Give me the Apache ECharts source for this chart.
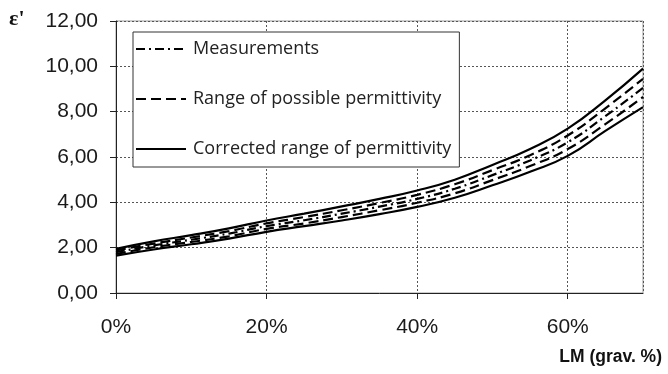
<!DOCTYPE html>
<html><head><meta charset="utf-8">
<script src="https://cdn.jsdelivr.net/npm/echarts@6/dist/echarts.min.js"></script>
<style>html,body{margin:0;padding:0;background:#fff}#c{width:668px;height:374px}</style>
</head><body><div id="c"></div>
<script>
const lm = [0, 5, 10, 15, 20, 25, 30, 35, 40, 45, 50, 55, 60, 65, 70];
const measurements = [1.80, 2.10, 2.35, 2.62, 2.95, 3.21, 3.50, 3.81, 4.15, 4.60, 5.20, 5.85, 6.65, 7.80, 9.05];
const rangeUpper   = [1.88, 2.18, 2.45, 2.73, 3.07, 3.35, 3.65, 3.97, 4.33, 4.80, 5.42, 6.08, 6.95, 8.15, 9.45];
const rangeLower   = [1.72, 2.02, 2.25, 2.50, 2.83, 3.07, 3.35, 3.65, 3.98, 4.40, 4.98, 5.60, 6.35, 7.45, 8.65];
const corrUpper    = [1.95, 2.28, 2.55, 2.85, 3.20, 3.50, 3.82, 4.15, 4.52, 5.00, 5.65, 6.35, 7.25, 8.50, 9.90];
const corrLower    = [1.65, 1.92, 2.15, 2.40, 2.70, 2.95, 3.20, 3.48, 3.80, 4.20, 4.75, 5.35, 6.05, 7.15, 8.20];
const names = ['Measurements', 'Range of possible permittivity', 'Corrected range of permittivity'];

const pair = arr => lm.map((x, i) => [x, arr[i]]);
const mk = (name, arr, type, w) => ({
  name, type: 'line', data: pair(arr), symbol: 'none', showSymbol: false, smooth: true, silent: true,
  itemStyle: { color: '#000' },
  lineStyle: { color: '#000', width: w, type: type }
});
const chart = echarts.init(document.getElementById('c'));
chart.setOption({
  animation: false,
  grid: { left: 116, right: 25, top: 21, bottom: 81, show: true, borderColor: '#9a9a9a', borderWidth: 1 },
  xAxis: {
    type: 'value', min: 0, max: 70, interval: 20,
    axisLine: { lineStyle: { color: '#222', width: 1 } },
    axisTick: { show: true, length: 6, lineStyle: { color: '#222' } },
    axisLabel: { showMaxLabel: false, formatter: v => v + '%', fontFamily: 'Liberation Sans', fontSize: 21, color: '#1a1a1a', margin: 24 },
    splitLine: { show: true, lineStyle: { color: '#555', type: [2, 2], width: 1 } }
  },
  yAxis: {
    type: 'value', min: 0, max: 12, interval: 2,
    axisLine: { show: true, lineStyle: { color: '#222', width: 1 } },
    axisTick: { show: true, length: 6, lineStyle: { color: '#222' } },
    axisLabel: { formatter: v => v.toFixed(2).replace('.', ','), fontFamily: 'Liberation Sans', fontSize: 21, color: '#1a1a1a', margin: 18 },
    splitLine: { show: true, lineStyle: { color: '#555', type: [2, 2], width: 1 } }
  },
  legend: {
    orient: 'vertical', left: 133, top: 32, width: 327,
    padding: [8, 8, 9, 2],
    itemGap: 32, itemWidth: 50, itemHeight: 17,
    backgroundColor: '#fff', borderColor: '#333', borderWidth: 1,
    itemStyle: { opacity: 0 },
    data: names,
    textStyle: { fontFamily: 'Open Sans', fontSize: 18, color: '#222', padding: [0, 0, 0, 2] }
  },
  graphic: [
    { type: 'text', left: 9, top: 8, style: { text: "ε'", font: 'bold 22px "Liberation Serif"', fill: '#111' } },
    { type: 'text', right: 6, top: 348, style: { text: 'LM (grav. %)', font: 'bold 17.5px "Liberation Sans"', fill: '#111' } }
  ],
  series: [
    mk(names[2], corrUpper, 'solid', 2.2),
    mk(names[1], rangeUpper, [10, 5], 2.2),
    mk(names[0], measurements, [9, 4, 2, 4], 2.2),
    mk(names[1], rangeLower, [10, 5], 2.2),
    mk(names[2], corrLower, 'solid', 2.2)
  ]
});
</script></body></html>
